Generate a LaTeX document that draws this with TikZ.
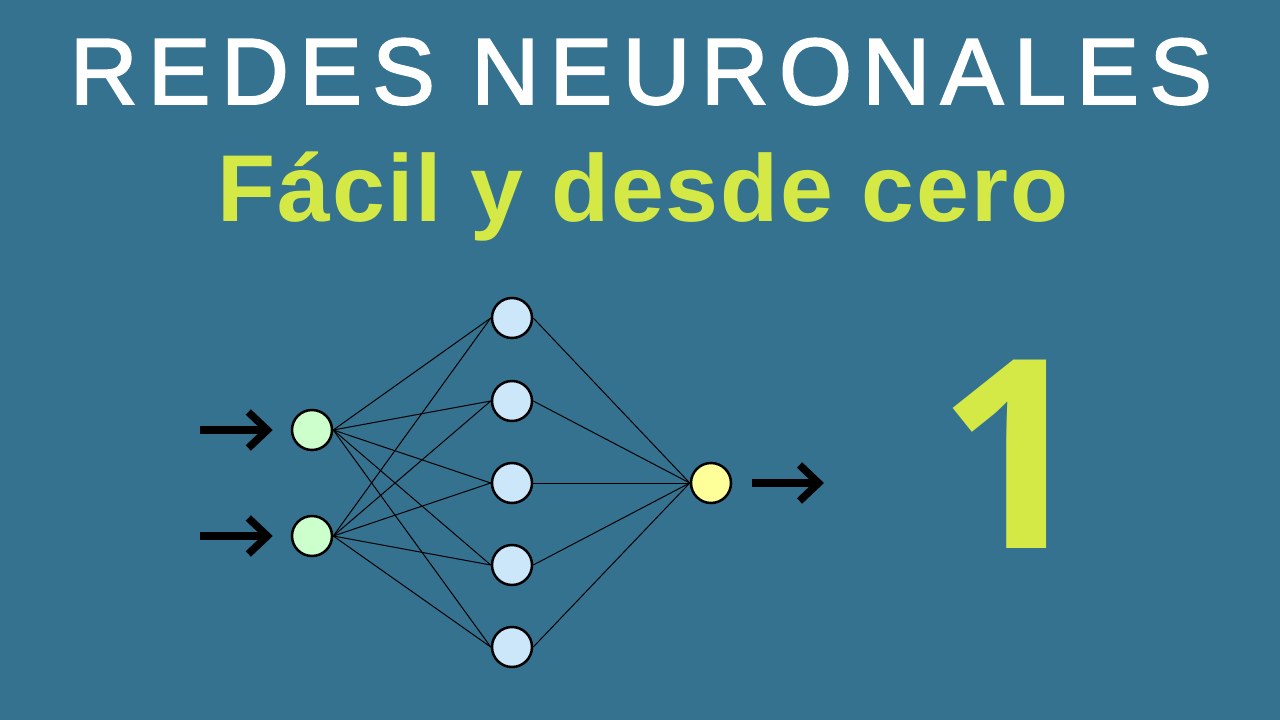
\documentclass[tikz,border=0pt]{standalone}
\usepackage{fontspec}
\setmainfont{Liberation Sans}
\newfontfamily\titlefont[LetterSpace=11,FakeBold=2]{Liberation Sans}
\newfontfamily\subfont[LetterSpace=2]{Liberation Sans}
\newfontfamily\numfont{Open Sans}
\usepackage{tikz}
\usetikzlibrary{arrows.meta}
\definecolor{bg_blue}{RGB}{52,114,143}
\definecolor{text_lime}{RGB}{212,232,70}
\definecolor{node_green}{RGB}{204,255,204}
\definecolor{node_blue}{RGB}{204,230,250}
\definecolor{node_yellow}{RGB}{255,255,153}

\begin{document}
\begin{tikzpicture}[x=1pt,y=-1pt]
    \tikzstyle{neuron}=[draw=black, circle, line width=2.5pt, minimum size=40pt, inner sep=0pt]
    \tikzstyle{neuronin}=[style=neuron,fill=node_green]
    \tikzstyle{neuronhid}=[style=neuron,fill=node_blue]
    \tikzstyle{neuronout}=[style=neuron,fill=node_yellow]
    \tikzstyle{signal}=[line width=7.5pt,-{Straight Barb[length=19pt,width=36pt]}]

    \fill[bg_blue] (0,0) rectangle (1280,720);

    \node[anchor=base,text=white,font=\titlefont\fontsize{94}{94}\selectfont] (title) at (641,104) {REDES NEURONALES};
    \node[anchor=base,text=text_lime,font=\subfont\bfseries\fontsize{95}{95}\selectfont] (subtitle) at (643,221) {Fácil y desde cero};
    \node[anchor=base,text=text_lime,font=\numfont\bfseries\fontsize{264}{264}\selectfont] (num) at (1013,548) {1};

    \node[neuronin] (X1) at (312,430) {};
    \node[neuronin] (X2) at (312,536) {};
    \node[neuronhid] (H1) at (512,318) {};
    \node[neuronhid] (H2) at (512,401) {};
    \node[neuronhid] (H3) at (512,483) {};
    \node[neuronhid] (H4) at (512,565) {};
    \node[neuronhid] (H5) at (512,647) {};
    \node[neuronout] (Y) at (711,483) {};

    \coordinate (in1) at (200,430);
    \coordinate (in2) at (200,536);
    \coordinate (out) at (824,483);

    \path[draw=black,line width=1pt]
     (X1.east) edge (H1.west)
     (X1.east) edge (H2.west)
     (X1.east) edge (H3.west)
     (X1.east) edge (H4.west)
     (X1.east) edge (H5.west)
     (X2.east) edge (H1.west)
     (X2.east) edge (H2.west)
     (X2.east) edge (H3.west)
     (X2.east) edge (H4.west)
     (X2.east) edge (H5.west)
     (H1.east) edge (Y.west)
     (H2.east) edge (Y.west)
     (H3.east) edge (Y.west)
     (H4.east) edge (Y.west)
     (H5.east) edge (Y.west);

    \draw[signal] (in1) -- ([xshift=-18pt]X1.west);
    \draw[signal] (in2) -- ([xshift=-18pt]X2.west);
    \draw[signal] ([xshift=20pt]Y.east) -- (out);
  \end{tikzpicture}
\end{document}
